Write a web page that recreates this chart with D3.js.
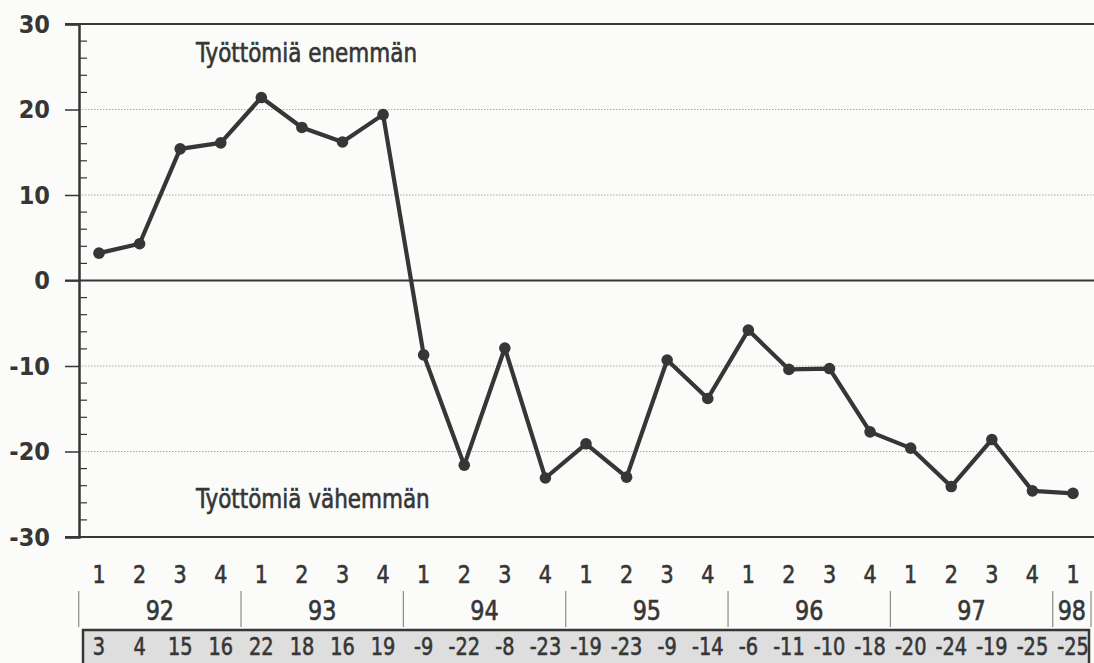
<!DOCTYPE html>
<html>
<head>
<meta charset="utf-8">
<script src="https://cdn.jsdelivr.net/npm/d3@7"></script>
<style>
html,body{margin:0;padding:0;background:#fbfbf9;}
svg{display:block;}
text{font-family:'DejaVu Sans Condensed','Liberation Sans Narrow',sans-serif;fill:#363636;}
text.heavy{stroke:#363636;stroke-width:0.6px;}
</style>
</head>
<body>
<svg id="chart" width="1094" height="663"></svg>
<script>
// ---- data ----
const quarters = ["1","2","3","4","1","2","3","4","1","2","3","4","1","2","3","4","1","2","3","4","1","2","3","4","1"];
const years = ["92","93","94","95","96","97","98"];
const yearQuarterCounts = [4,4,4,4,4,4,1];
const values = [3.2,4.3,15.4,16.1,21.4,17.9,16.2,19.4,-8.7,-21.6,-7.9,-23.1,-19.1,-23.0,-9.3,-13.8,-5.8,-10.4,-10.3,-17.7,-19.6,-24.1,-18.6,-24.6,-24.9];
const tableLabels = ["3","4","15","16","22","18","16","19","-9","-22","-8","-23","-19","-23","-9","-14","-6","-11","-10","-18","-20","-24","-19","-25","-25"];
const yTicks = [30,20,10,0,-10,-20,-30];
const labelUp = "Työttömiä enemmän";
const labelDown = "Työttömiä vähemmän";

// ---- layout ----
const svg = d3.select("#chart");
const axisX = 79, rightX = 1094;
const y = d3.scaleLinear().domain([-30,30]).range([537,24]);
const x = d3.scalePoint().domain(d3.range(values.length)).range([99,1073]);
const step = x.step();
const ink = "#363636";

// gridlines (dotted)
svg.append("g").selectAll("line").data(yTicks.filter(t => t!==0 && Math.abs(t)!==30)).join("line")
  .attr("x1", axisX).attr("x2", rightX)
  .attr("y1", d => y(d)).attr("y2", d => y(d))
  .attr("stroke", "#a8a8a8").attr("stroke-width", 1).attr("stroke-dasharray", "1.5,1.5");

// y axis with d3 axis (major ticks)
const yAxis = d3.axisLeft(y).tickValues(yTicks).tickSize(14).tickPadding(15).tickFormat(d => String(d));
const ga = svg.append("g").attr("transform", `translate(${axisX},0)`).call(yAxis);
ga.select(".domain").attr("stroke", ink).attr("stroke-width", 2.5);
ga.selectAll(".tick line").attr("stroke", ink).attr("stroke-width", 1.5);
ga.selectAll(".tick text").attr("font-size", 25).attr("font-weight", "bold").attr("fill", ink)
  .style("font-family","'DejaVu Sans Condensed','Liberation Sans Narrow',sans-serif");

// minor ticks every 2
const minor = d3.range(-28, 30, 2).filter(v => v % 10 !== 0);
svg.append("g").selectAll("line").data(minor).join("line")
  .attr("x1", axisX).attr("x2", axisX + 8)
  .attr("y1", d => y(d)).attr("y2", d => y(d))
  .attr("stroke", ink).attr("stroke-width", 1.2);

// top, zero, bottom solid lines
svg.append("g").selectAll("line").data([30,0,-30]).join("line")
  .attr("x1", axisX - 14).attr("x2", rightX)
  .attr("y1", d => y(d)).attr("y2", d => y(d))
  .attr("stroke", ink).attr("stroke-width", 2.2);

// line
const line = d3.line().x((d,i) => x(i)).y(d => y(d));
svg.append("path").datum(values).attr("d", line)
  .attr("fill", "none").attr("stroke", ink).attr("stroke-width", 4.2).attr("stroke-linejoin", "round");
svg.append("g").selectAll("circle").data(values).join("circle")
  .attr("cx", (d,i) => x(i)).attr("cy", d => y(d)).attr("r", 5.8).attr("fill", ink);

// annotations (slightly condensed)
svg.append("text").attr("class","heavy").attr("transform", "translate(196,62) scale(0.92,1)").attr("font-size", 26).text(labelUp);
svg.append("text").attr("class","heavy").attr("transform", "translate(196,508) scale(0.92,1)").attr("font-size", 26).text(labelDown);

// quarter labels
svg.append("g").selectAll("text").data(quarters).join("text").attr("class","heavy")
  .attr("transform", (d,i) => `translate(${x(i)},583) scale(0.92,1)`).attr("text-anchor", "middle").attr("font-size", 25).text(d => d);

// year labels and separators
let start = 0;
const yearSpans = years.map((yr, k) => { const s = start; start += yearQuarterCounts[k]; return {yr, s, e: start}; });
const edge = i => x(0) - step/2 + i*step;
svg.append("g").selectAll("text").data(yearSpans).join("text").attr("class","heavy")
  .attr("transform", d => `translate(${(edge(d.s) + Math.min(edge(d.e),1091))/2},620) scale(0.92,1)`)
  .attr("text-anchor", "middle").attr("font-size", 27).text(d => d.yr);
const seps = yearSpans.map(d => d.s).concat([values.length]);
svg.append("g").selectAll("line").data(seps).join("line")
  .attr("x1", d => Math.min(edge(d), 1091)).attr("x2", d => Math.min(edge(d), 1091))
  .attr("y1", 591).attr("y2", 627).attr("stroke", "#8a8a8a").attr("stroke-width", 1.2);

// table row
svg.append("rect").attr("x", 83).attr("y", 630).attr("width", 1006).attr("height", 40)
  .attr("fill", "#dedede").attr("stroke", ink).attr("stroke-width", 2.5);
svg.append("g").selectAll("text").data(tableLabels).join("text").attr("class","heavy")
  .attr("transform", (d,i) => `translate(${x(i)},655) scale(0.86,1)`)
  .attr("text-anchor", "middle").attr("font-size", 25).text(d => d);
</script>
</body>
</html>
